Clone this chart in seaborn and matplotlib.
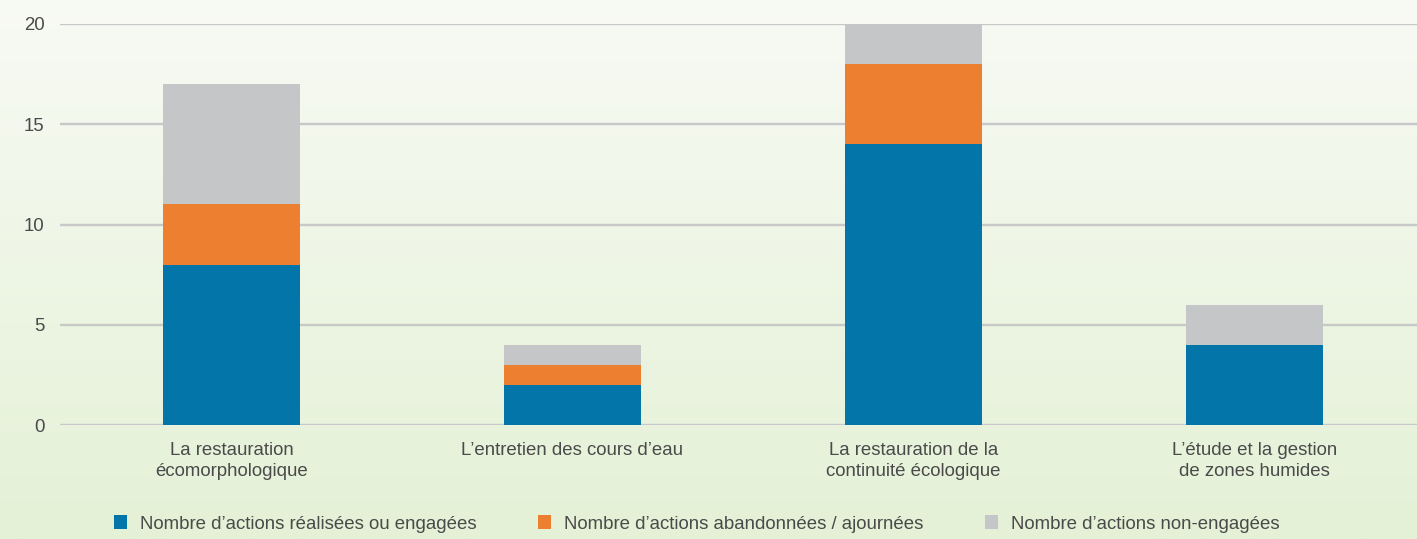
import numpy as np
import pandas as pd
import matplotlib
matplotlib.use("Agg")
import matplotlib.pyplot as plt
from matplotlib.patches import Patch
import seaborn as sns

categories = [
    "La restauration\nécomorphologique",
    "L\u2019entretien des cours d\u2019eau",
    "La restauration de la\ncontinuité écologique",
    "L\u2019étude et la gestion\nde zones humides",
]
realisees = [8, 2, 14, 4]
abandonnees = [3, 1, 4, 0]
non_engagees = [6, 1, 2, 2]
series_labels = [
    "Nombre d\u2019actions réalisées ou engagées",
    "Nombre d\u2019actions abandonnées / ajournées",
    "Nombre d\u2019actions non-engagées",
]
colors = ["#0475a8", "#ed7f30", "#c5c6c8"]
text_color = "#4a4a4a"

sns.set_style("white")
plt.rcParams["font.family"] = ["Liberation Sans", "DejaVu Sans"]

df = pd.DataFrame({
    "cat": categories,
    "blue": realisees,
    "orange": abandonnees,
    "gray": non_engagees,
})
df["lvl1"] = df["blue"]
df["lvl2"] = df["blue"] + df["orange"]
df["lvl3"] = df["lvl2"] + df["gray"]

fig = plt.figure(figsize=(14.17, 5.39), dpi=100)

# gradient background
bg = fig.add_axes([0, 0, 1, 1], zorder=0)
top = np.array(matplotlib.colors.to_rgb("#f8faf4"))
bot = np.array(matplotlib.colors.to_rgb("#e4f1d6"))
t = np.linspace(0, 1, 256)[:, None]
grad = (top * (1 - t) + bot * t)[:, None, :]
bg.imshow(grad, aspect="auto", extent=[0, 1, 0, 1])
bg.axis("off")

ax = fig.add_axes([60 / 1417, 114 / 539, 1 - 60 / 1417, 401 / 539], zorder=1)
ax.patch.set_alpha(0)

# stacked bars: draw totals first, then overlay lower parts
for col, c in zip(["lvl3", "lvl2", "lvl1"], colors[::-1]):
    sns.barplot(data=df, x="cat", y=col, color=c, width=0.40,
                saturation=1, linewidth=0, ax=ax, zorder=3)

ax.set_xlim(-0.503, 3.477)
ax.set_ylim(0, 20)
ax.set_yticks([0, 5, 10, 15, 20])
ax.set_xlabel("")
ax.set_ylabel("")
for y in [0, 5, 10, 15, 20]:
    ax.axhline(y, color="#c8c8c8", lw=1.7, zorder=2)
for s in ax.spines.values():
    s.set_visible(False)
ax.tick_params(axis="both", length=0, labelsize=13.4, colors=text_color)
ax.tick_params(axis="y", pad=11)
ax.tick_params(axis="x", pad=12)
for lab in ax.get_xticklabels():
    lab.set_linespacing(1.32)

handles = [Patch(facecolor=c, edgecolor="none") for c in colors]
fig.legend(handles, series_labels, loc="center",
           bbox_to_anchor=(697 / 1417, 1 - 524 / 539), ncol=3, frameon=False,
           fontsize=13.4, labelcolor=text_color, handlelength=0.7,
           handleheight=0.8, handletextpad=0.7, columnspacing=3.3)

fig.savefig("out.png", dpi=100)
